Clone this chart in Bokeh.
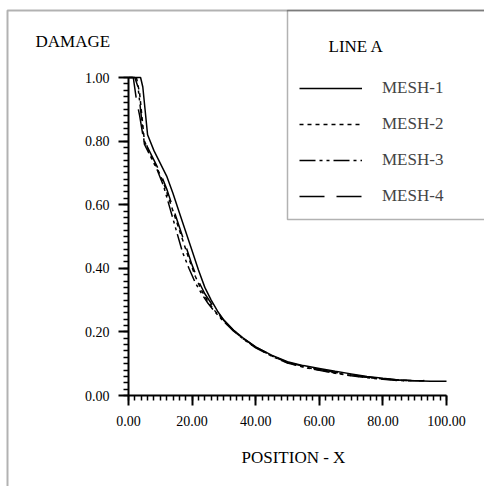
from bokeh.plotting import figure
from bokeh.models import (Range1d, SingleIntervalTicker, NumeralTickFormatter, Legend,
                          LegendItem, BoxAnnotation)
from bokeh.core.properties import value
from bokeh.embed import file_html
from bokeh.resources import INLINE

# ---- data ----
mesh1_x = [0, 3.8, 4.5, 5.2, 6, 8, 10, 12, 14, 16, 18, 20, 22, 24, 26, 28, 30, 33, 36,
           40, 45, 50, 55, 60, 65, 70, 75, 80, 85, 90, 95, 100]
mesh1_y = [1.0, 1.0, 0.97, 0.90, 0.82, 0.77, 0.73, 0.69, 0.635, 0.575, 0.515, 0.455,
           0.395, 0.34, 0.30, 0.265, 0.237, 0.206, 0.181, 0.153, 0.127, 0.106, 0.094,
           0.085, 0.076, 0.068, 0.060, 0.054, 0.049, 0.046, 0.045, 0.045]

mesh2_x = [0, 2.5, 3.5, 4.3, 5, 7, 9, 11, 13, 15, 17, 19, 21, 23, 25, 27, 30, 33, 36,
           40, 45, 50, 55, 60, 65, 70, 75, 80, 85, 90, 93]
mesh2_y = [1.0, 1.0, 0.95, 0.87, 0.80, 0.755, 0.715, 0.67, 0.61, 0.55, 0.49, 0.43,
           0.375, 0.33, 0.295, 0.268, 0.234, 0.204, 0.179, 0.151, 0.125, 0.103, 0.090,
           0.080, 0.071, 0.063, 0.057, 0.052, 0.048, 0.046, 0.046]

mesh3_x = [0, 2, 3, 4, 5, 7, 9, 11, 13, 15, 17, 19, 21, 23, 25, 27, 30, 33, 36,
           40, 45, 50, 55, 60, 65, 70, 75, 80, 85, 90, 93]
mesh3_y = [1.0, 1.0, 0.97, 0.88, 0.79, 0.75, 0.71, 0.66, 0.59, 0.52, 0.45, 0.40,
           0.355, 0.32, 0.29, 0.265, 0.232, 0.203, 0.178, 0.150, 0.124, 0.102, 0.089,
           0.079, 0.070, 0.062, 0.056, 0.051, 0.047, 0.046, 0.046]

mesh4_x = [0, 1.5, 2.5, 3.5, 4.5, 6, 8, 10, 12, 14, 16, 18, 20, 22, 24, 26, 28, 30, 33, 36,
           40, 45, 50, 55, 60, 65, 70, 75, 80, 85, 90, 93]
mesh4_y = [1.0, 1.0, 0.93, 0.88, 0.82, 0.78, 0.74, 0.70, 0.65, 0.59, 0.53, 0.47, 0.41,
           0.36, 0.32, 0.29, 0.262, 0.236, 0.205, 0.180, 0.152, 0.126, 0.104, 0.092,
           0.082, 0.073, 0.065, 0.058, 0.053, 0.049, 0.047, 0.047]

series_names = ["MESH-1", "MESH-2", "MESH-3", "MESH-4"]
legend_title = "LINE A"
y_title = "DAMAGE"
x_title = "POSITION - X"
x_axis_bounds = (0, 100)
y_axis_bounds = (0, 1.0)
x_ticks_interval = 20
y_ticks_interval = 0.2

FONT = "Liberation Serif"

W, H = 484, 486
# frame covers the whole canvas; data box 0..100 x 0..1 sits at px 128..446 x 77..395
PX0, PX1, PY_TOP, PY_BOT = 128, 446, 77, 395
sx = (PX1 - PX0) / (x_axis_bounds[1] - x_axis_bounds[0])
sy = (PY_BOT - PY_TOP) / (y_axis_bounds[1] - y_axis_bounds[0])
x_range = Range1d(x_axis_bounds[0] - PX0 / sx, x_axis_bounds[1] + (W - PX1) / sx)
y_range = Range1d(y_axis_bounds[0] - (H - PY_BOT) / sy, y_axis_bounds[1] + PY_TOP / sy)


def px_to_x(px):
    return x_axis_bounds[0] + (px - PX0) / sx


def py_to_y(py):
    return y_axis_bounds[0] + (PY_BOT - py) / sy


p = figure(width=W, height=H, x_range=x_range, y_range=y_range,
           output_backend="svg", toolbar_location=None,
           min_border_left=0, min_border_right=0, min_border_top=0, min_border_bottom=0)
p.grid.visible = False
p.outline_line_color = None
p.background_fill_color = "white"
p.border_fill_color = "white"

p.xaxis.ticker = SingleIntervalTicker(interval=x_ticks_interval, num_minor_ticks=10)
p.yaxis.ticker = SingleIntervalTicker(interval=y_ticks_interval, num_minor_ticks=10)
p.xaxis.bounds = x_axis_bounds
p.yaxis.bounds = y_axis_bounds
p.xaxis.fixed_location = y_axis_bounds[0]
p.yaxis.fixed_location = x_axis_bounds[0]
for ax in (p.xaxis, p.yaxis):
    ax.formatter = NumeralTickFormatter(format="0.00")
    ax.axis_line_width = 2
    ax.axis_line_color = "black"
    ax.major_tick_line_color = "black"
    ax.minor_tick_line_color = "black"
    ax.major_tick_line_width = 2
    ax.minor_tick_line_width = 1.5
    ax.major_tick_in = 0
    ax.major_tick_out = 10
    ax.minor_tick_in = 0
    ax.minor_tick_out = 5
    ax.major_label_text_font = FONT
    ax.major_label_text_font_size = "14px"
    ax.major_label_text_color = "black"
p.yaxis.major_label_standoff = 9
p.xaxis.major_label_standoff = 10

r1 = p.line(mesh1_x, mesh1_y, line_color="black", line_width=1.5)
r2 = p.line(mesh2_x, mesh2_y, line_color="black", line_width=1.5, line_dash="4 4")
r3 = p.line(mesh3_x, mesh3_y, line_color="black", line_width=1.5, line_dash="16 4 3 4 3 4")
r4 = p.line(mesh4_x, mesh4_y, line_color="black", line_width=1.5, line_dash="25 12")

legend = Legend(items=[LegendItem(label=n, renderers=[r]) for n, r in
                       zip(series_names, [r1, r2, r3, r4])],
                location=(299, H - 206), orientation="vertical",
                glyph_width=63, glyph_height=20, label_height=20, spacing=16,
                padding=0, margin=0, label_standoff=20,
                border_line_color=None, background_fill_alpha=0,
                label_text_font=FONT, label_text_font_size="17px",
                label_text_baseline="alphabetic")
p.add_layout(legend)

# frame borders (outer and legend box), screen units measured from bottom-left
outer = BoxAnnotation(left=7, right=W + 50, top=H - 10, bottom=-50,
                      left_units="screen", right_units="screen",
                      top_units="screen", bottom_units="screen",
                      fill_alpha=0, line_color="black", line_width=2)
legbox = BoxAnnotation(left=287, right=W + 50, top=H - 10, bottom=H - 219,
                       left_units="screen", right_units="screen",
                       top_units="screen", bottom_units="screen",
                       fill_alpha=0, line_color="black", line_width=1.5)
p.add_layout(outer)
p.add_layout(legbox)

titles = [y_title, legend_title, x_title]
title_px = [35, 328, 241]
title_py = [41, 46, 457]
p.text(x=[px_to_x(v) for v in title_px], y=[py_to_y(v) for v in title_py], text=titles,
       text_font=value(FONT), text_font_size="17px", text_color="black",
       text_baseline="middle", text_align="left")

open("out.html", "w").write(file_html(p, INLINE))
